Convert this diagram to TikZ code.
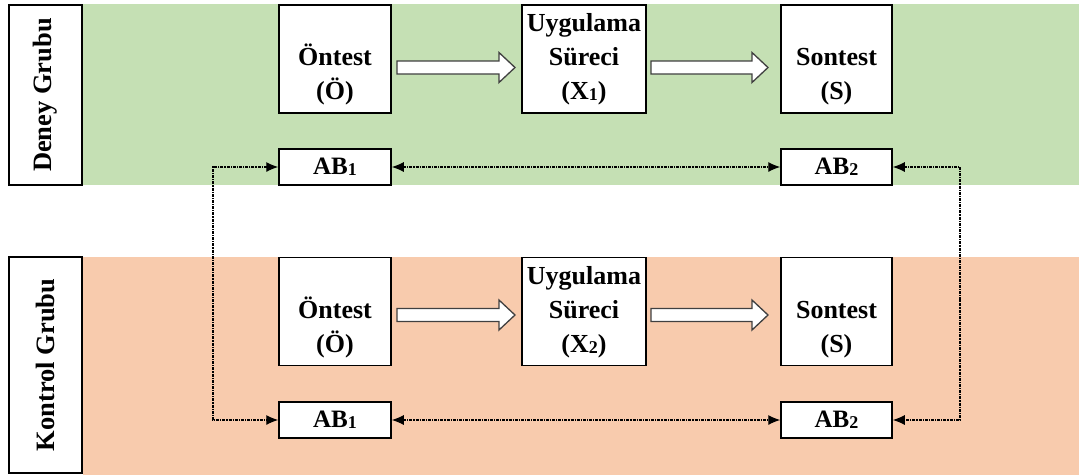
\documentclass[tikz,border=0pt]{standalone}
\usepackage{fontspec}
\setmainfont{Liberation Serif}
\usetikzlibrary{calc,arrows.meta}
\definecolor{bandgreen}{HTML}{C5E0B4}
\definecolor{bandorange}{HTML}{F8CBAD}
\definecolor{arrowgray}{HTML}{404040}
\newcommand{\subd}[1]{\raisebox{-1pt}{\fontsize{18}{18}\selectfont #1}}
\newcommand{\blockarrow}[3]{% from x, to x, y
  \draw[barrow] (#1,#3-6.5) -- (#2-16,#3-6.5) -- (#2-16,#3-15) -- (#2,#3) -- (#2-16,#3+15) -- (#2-16,#3+6.5) -- (#1,#3+6.5) -- cycle;}
\tikzset{
  grouplabel/.style={draw=black, line width=1.4pt, fill=white},
  bigbox/.style={draw=black, line width=1.5pt, fill=white, inner sep=0pt,
    minimum height=108pt, align=center,
    font=\bfseries\fontsize{26}{34}\selectfont},
  abbox/.style={draw=black, line width=1.5pt, fill=white, inner sep=0pt,
    minimum width=112pt, minimum height=36pt,
    font=\bfseries\fontsize{25}{30}\selectfont},
  barrow/.style={draw=arrowgray, line width=1.3pt, fill=white, line join=miter},
  conn/.style={line width=1.1pt, dash pattern=on 3pt off 1pt on 1.2pt off 1pt,
    {Latex[length=12pt,width=10pt]}-{Latex[length=12pt,width=10pt]}},
}
\begin{document}
\begin{tikzpicture}[x=1pt,y=-1pt]
\useasboundingbox (0,0) rectangle (1079,475);
\fill[white] (0,0) rectangle (1079,475);
% bands
\fill[bandgreen] (83,4) rectangle (1079,185);
\fill[bandorange] (83,257) rectangle (1079,475);
% group labels
\node[grouplabel, minimum width=73pt, minimum height=180pt] (dg) at (45.5,95) {};
\node[rotate=90, font=\bfseries\fontsize{26.5}{30}\selectfont] (dgt) at (dg.center) {Deney Grubu};
\node[grouplabel, minimum width=73pt, minimum height=216pt] (kg) at (45.5,365) {};
\node[rotate=90, font=\bfseries\fontsize{26.5}{30}\selectfont] (kgt) at (kg.center) {Kontrol Grubu};
% top row
\node[bigbox, minimum width=112pt] (tO) at (335,59) {\strut\\\strut Öntest\\\strut(Ö)};
\node[bigbox, minimum width=124pt] (tU) at (584,59) {\strut Uygulama\\\strut Süreci\\\strut(X\subd{1})};
\node[bigbox, minimum width=111pt] (tS) at (836.5,59) {\strut\\\strut Sontest\\\strut(S)};
\node[abbox] (tA1) at (335,167) {AB\subd{1}};
\node[abbox, minimum width=111pt] (tA2) at (836.5,167) {AB\subd{2}};
% bottom row
\node[bigbox, minimum width=112pt] (bO) at (335,311.5) {\strut\\\strut Öntest\\\strut(Ö)};
\node[bigbox, minimum width=124pt] (bU) at (584,311.5) {\strut Uygulama\\\strut Süreci\\\strut(X\subd{2})};
\node[bigbox, minimum width=111pt] (bS) at (836.5,311.5) {\strut\\\strut Sontest\\\strut(S)};
\node[abbox] (bA1) at (335,420) {AB\subd{1}};
\node[abbox, minimum width=111pt] (bA2) at (836.5,420) {AB\subd{2}};
% block arrows
\blockarrow{397}{515}{67.5}
\blockarrow{651}{768}{67.5}
\blockarrow{397}{515}{315}
\blockarrow{651}{768}{315}
% dashed connectors
\coordinate (lx) at (213,300);
\coordinate (rx) at (960,300);
\draw[conn] (tA1.east) -- (tA2.west);
\draw[conn] (bA1.east) -- (bA2.west);
\draw[conn] (tA1.west) -| (lx) |- (bA1.west);
\draw[conn] (tA2.east) -| (rx) |- (bA2.east);
\end{tikzpicture}
\end{document}
